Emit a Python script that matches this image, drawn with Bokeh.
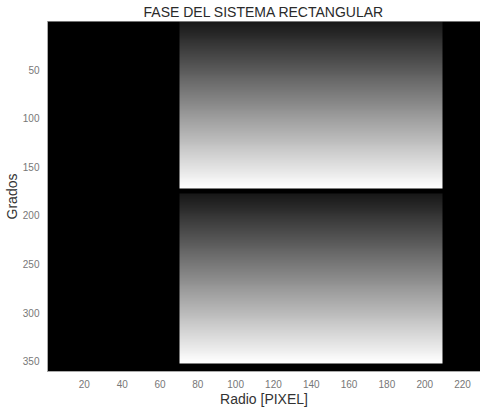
import numpy as np
from bokeh.plotting import figure
from bokeh.models import Range1d, FixedTicker
from bokeh.palettes import Greys256
from bokeh.embed import file_html
from bokeh.resources import INLINE

# ---- data ----
n_radio = 229          # image width (pixels)
n_grados = 360         # image height (degrees)
band_cols = [71, 209]  # radio range of the lit band
upper_rows = [1, 172]  # first half (grados)
lower_rows = [178, 352]  # second half (grados)
gray_low = 0.09        # phase grey at top of each half
gray_high = 0.96       # phase grey at bottom of each half
x_ticks = [20, 40, 60, 80, 100, 120, 140, 160, 180, 200, 220]
y_ticks = [50, 100, 150, 200, 250, 300, 350]

phase = np.zeros((n_grados, n_radio))
for r0, r1 in (upper_rows, lower_rows):
    ramp = np.linspace(gray_low, gray_high, r1 - r0 + 1)
    phase[r0 - 1:r1, band_cols[0] - 1:band_cols[1]] = ramp[:, None]

FONT = "Liberation Sans"
p = figure(frame_width=433, frame_height=350, output_backend="svg", toolbar_location=None,
           x_range=Range1d(0.5, n_radio + 0.5), y_range=Range1d(n_grados + 0.5, 0.5),
           title="FASE DEL SISTEMA RECTANGULAR",
           min_border_left=45, min_border_right=0, min_border_top=0, min_border_bottom=0)

p.image(image=[phase], x=0.5, y=0.5, dw=n_radio, dh=n_grados,
        palette=Greys256, level="image")

p.title.align = "center"
p.title.text_font = FONT
p.title.text_font_size = "14px"
p.title.text_font_style = "normal"
p.title.text_color = "#2a2a2a"
p.title.offset = 0
p.title.standoff = 3

p.grid.visible = False
p.outline_line_color = "#999999"
p.background_fill_color = "black"

p.xaxis.ticker = FixedTicker(ticks=x_ticks)
p.yaxis.ticker = FixedTicker(ticks=y_ticks)
p.xaxis.axis_label = "Radio [PIXEL]"
p.yaxis.axis_label = "Grados"
for ax in (p.xaxis[0], p.yaxis[0]):
    ax.axis_line_color = "#aaaaaa"
    ax.major_tick_line_color = None
    ax.minor_tick_line_color = None
    ax.major_label_text_font = FONT
    ax.major_label_text_font_size = "10px"
    ax.major_label_text_color = "#777777"
    ax.axis_label_text_font = FONT
    ax.axis_label_text_font_size = "14px"
    ax.axis_label_text_font_style = "normal"
    ax.axis_label_text_color = "#333333"
    ax.major_label_standoff = 2
    ax.axis_label_standoff = 0

open("out.html", "w").write(file_html(p, INLINE))
